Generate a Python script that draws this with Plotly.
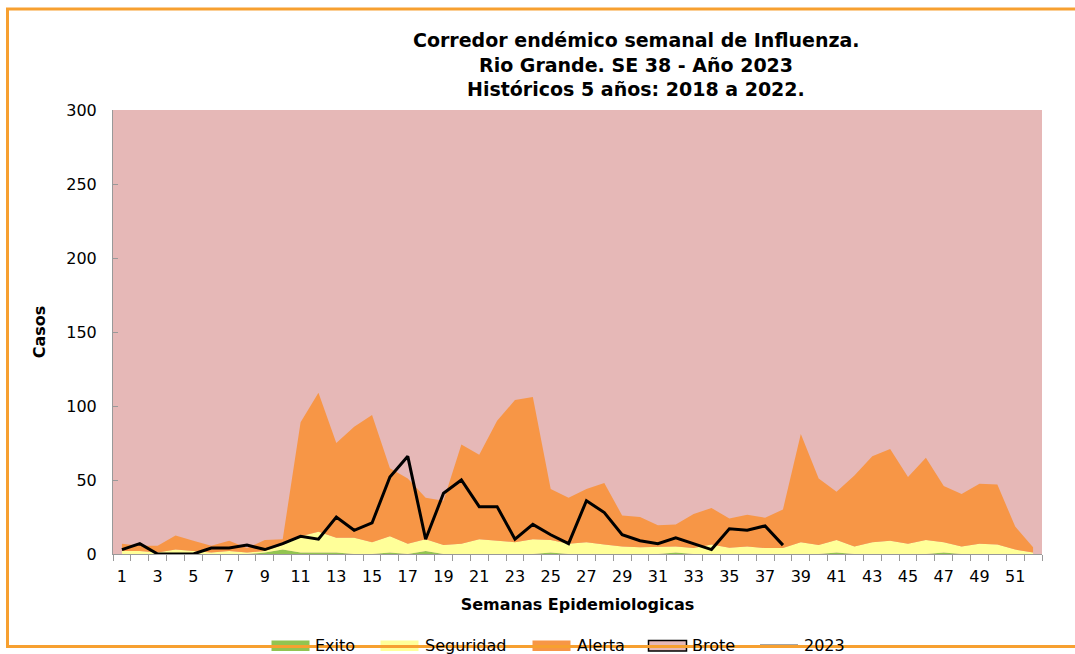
import plotly.graph_objects as go

weeks = list(range(1, 53))
tick_labels = [str(w) for w in range(1, 52, 2)]

# cumulative upper bounds of each zone
exito_top = [0, 0, 0, 0, 0, 0, 0, 0, 1, 3, 1, 1, 1, 0, 0, 1, 0, 2, 0, 0,
             0, 0, 0, 0, 1, 0, 0, 0, 0, 0, 0, 1, 0, 0, 0, 0, 0, 0, 0, 0,
             1, 0, 0, 0, 0, 0, 1, 0, 0, 0, 0, 0]
seguridad_top = [2, 2, 1, 3, 2, 1, 2, 1, 2, 6, 12, 15, 11, 11, 8, 12, 7, 10, 6, 7,
                 10, 9, 8, 10, 9.5, 7, 8, 6.5, 5, 4.5, 4.5, 5, 4, 6.5, 4.3, 5, 4, 4, 8, 6,
                 9.5, 5, 8, 9, 7, 9.5, 8, 5, 7, 6.5, 3, 1]
alerta_top = [7, 5.5, 5.5, 12.5, 9, 5.5, 9, 4, 9.5, 10, 89, 109, 75, 86, 94, 58, 51, 38, 36, 74,
              67, 90, 104, 106, 44, 38, 44, 48, 26, 25, 19.5, 20, 27, 31, 24, 26.5, 24.5, 30, 81, 51,
              42, 53, 66, 71, 52, 65, 46, 40.5, 47.5, 47, 18.5, 4.5]
weeks_2023 = list(range(1, 39))
casos_2023 = [3, 7, 0, 0, 0, 4, 4, 6, 3, 7, 12, 10, 25, 16, 21, 52, 66, 10, 41, 50,
              32, 32, 10, 20, 13, 7, 36, 28, 13, 9, 7, 11, 7, 3, 17, 16, 19, 6]
title_lines = ["Corredor endémico semanal de Influenza.",
               "Rio Grande. SE 38 - Año 2023",
               "Históricos 5 años: 2018 a 2022."]
legend_names = ["Exito", "Seguridad", "Alerta", "Brote", "2023"]

GREEN = "#92C450"
YELLOW = "#FFFF99"
ORANGE = "#F79646"
PINK = "#E6B8B7"
FRAME = "#F7A030"
FONT = "DejaVu Sans, Arial, sans-serif"

fig = go.Figure()
fig.add_trace(go.Scatter(x=weeks, y=exito_top, mode="lines", fill="tozeroy",
                         fillcolor=GREEN, line=dict(width=0, color=GREEN), name=legend_names[0]))
fig.add_trace(go.Scatter(x=weeks, y=seguridad_top, mode="lines", fill="tonexty",
                         fillcolor=YELLOW, line=dict(width=0, color=YELLOW), name=legend_names[1]))
fig.add_trace(go.Scatter(x=weeks, y=alerta_top, mode="lines", fill="tonexty",
                         fillcolor=ORANGE, line=dict(width=0, color=ORANGE), name=legend_names[2]))
fig.add_trace(go.Scatter(x=weeks_2023, y=casos_2023, mode="lines",
                         line=dict(width=3, color="black"), name=legend_names[4]))

L, R, T, B = 113, 1042, 110, 554
W, H = 1075, 654
pw, ph = R - L, B - T

def px_x(p):
    return (p - L) / pw

def px_y(p):
    return (B - p) / ph

# legend drawn by hand (swatch boxes, line sample and labels)
swatches = [(271.5, 309.5, GREEN, None), (380.5, 418.5, YELLOW, None),
            (532.5, 570.5, ORANGE, None), (648.5, 686.5, PINK, "black")]
label_x = [313, 422.5, 575, 690, 802]
for x0, x1, col, border in swatches:
    fig.add_shape(type="rect", xref="paper", yref="paper",
                  x0=px_x(x0), x1=px_x(x1), y0=px_y(651), y1=px_y(640.5),
                  fillcolor=col,
                  line=dict(color=border if border else col, width=1.5 if border else 0),
                  layer="above")
fig.add_shape(type="line", xref="paper", yref="paper",
              x0=px_x(760), x1=px_x(798), y0=px_y(645.5), y1=px_y(645.5),
              line=dict(color="#A6A6A6", width=3), layer="above")
for name, lx in zip(legend_names, label_x):
    fig.add_annotation(text=name, xref="paper", yref="paper", x=px_x(lx), y=px_y(645.5),
                       xanchor="left", yanchor="middle", showarrow=False,
                       font=dict(size=16, family=FONT, color="black"))

# outer frame
fig.add_shape(type="rect", xref="paper", yref="paper",
              x0=px_x(7.5), x1=px_x(1090), y0=px_y(646.5), y1=px_y(9),
              line=dict(color=FRAME, width=3), fillcolor="rgba(0,0,0,0)", layer="above")

for i, line in enumerate(title_lines):
    fig.add_annotation(text="<b>" + line + "</b>", xref="paper", yref="paper",
                       x=px_x(636), y=px_y(40 + 24.5 * i), xanchor="center", yanchor="middle",
                       showarrow=False, font=dict(size=19, family=FONT, color="black"))

fig.update_layout(
    width=W, height=H,
    margin=dict(l=L, r=W - R, t=T, b=H - B, autoexpand=False),
    paper_bgcolor="white", plot_bgcolor=PINK,
    font=dict(family=FONT, size=16, color="black"),
    showlegend=False,
    xaxis=dict(range=[0.5, 52.5], tickmode="array", tickvals=list(range(1, 52, 2)),
               ticktext=tick_labels, ticks="", showgrid=False, zeroline=False,
               showline=True, linecolor="#999999", linewidth=1, automargin=False,
               tickfont=dict(size=16), ticklabelstandoff=8,
               minor=dict(tickmode="array", tickvals=[w + 0.5 for w in range(0, 53)],
                          ticks="outside", ticklen=6, tickcolor="#999999", showgrid=False),
               title=dict(text="<b>Semanas Epidemiologicas</b>", font=dict(size=16), standoff=13)),
    yaxis=dict(range=[0, 300], dtick=50, ticks="inside", ticklen=5, tickcolor="#999999",
               showgrid=False, zeroline=False, showline=True, linecolor="#999999", linewidth=1,
               automargin=False, tickfont=dict(size=16), ticklabelstandoff=12,
               title=dict(text="<b>Casos</b>", font=dict(size=16), standoff=16)),
)

fig.write_html("out.html", config={"displayModeBar": False},
               post_script="document.body.style.margin='0px';")
